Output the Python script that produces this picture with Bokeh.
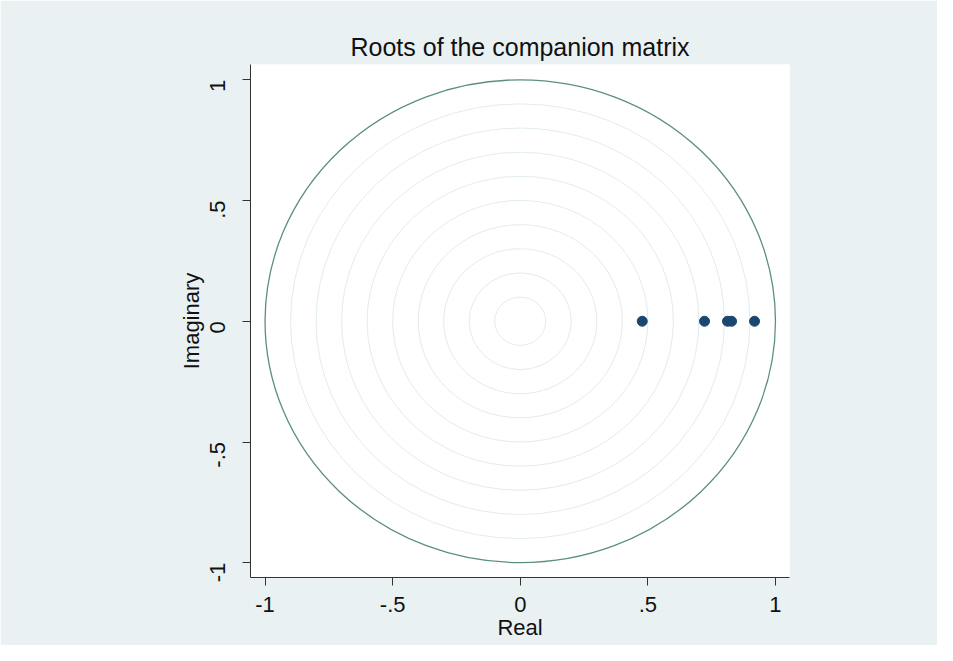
from bokeh.plotting import figure
from bokeh.models import FixedTicker, Range1d
from bokeh.embed import file_html
from bokeh.resources import INLINE
import math

# Data
root_real = [0.478, 0.722, 0.812, 0.828, 0.918]
root_imag = [0.0, 0.0, 0.0, 0.0, 0.0]
grid_radii = [0.1, 0.2, 0.3, 0.4, 0.5, 0.6, 0.7, 0.8, 0.9]
unit_radius = [1.0]
tick_values = [-1, -0.5, 0, 0.5, 1]
tick_labels = ["-1", "-.5", "0", ".5", "1"]

BG = "#E9F1F3"
FONT = "Liberation Sans"

p = figure(width=937, height=645, output_backend="svg", toolbar_location=None,
           x_range=Range1d(-1.057, 1.055), y_range=Range1d(-1.061, 1.063),
           title="Roots of the companion matrix",
           min_border_left=250, min_border_right=148, min_border_top=64, min_border_bottom=68)

p.background_fill_color = "white"
p.border_fill_color = BG
p.outline_line_color = None
p.grid.visible = False

p.title.align = "center"
p.title.text_font = FONT
p.title.text_font_size = "25px"
p.title.text_font_style = "normal"
p.title.text_color = "#111111"
p.title.standoff = 7

# grid circles
n = len(grid_radii)
p.ellipse(x=[0] * n, y=[0] * n, width=[2 * r for r in grid_radii], height=[2 * r for r in grid_radii],
          fill_color=None, line_color="#E2ECF0", line_width=1)
# unit circle
p.ellipse(x=[0], y=[0], width=[2 * r for r in unit_radius], height=[2 * r for r in unit_radius],
          fill_color=None, line_color="#5B8F84", line_width=1.3)

p.scatter(root_real, root_imag, size=10, fill_color="#1A476F", line_color="#1A476F")

overrides = {float(v): l for v, l in zip(tick_values, tick_labels)}
for ax in (p.xaxis[0], p.yaxis[0]):
    ax.ticker = FixedTicker(ticks=tick_values)
    ax.major_label_overrides = overrides
    ax.minor_tick_line_color = None
    ax.major_tick_in = 0
    ax.major_tick_out = 8
    ax.axis_line_color = "#333333"
    ax.major_tick_line_color = "#333333"
    ax.major_label_text_font = FONT
    ax.major_label_text_font_size = "22px"
    ax.major_label_text_color = "#111111"
    ax.axis_label_text_font = FONT
    ax.axis_label_text_font_size = "22px"
    ax.axis_label_text_font_style = "normal"
    ax.axis_label_text_color = "#111111"

p.xaxis.axis_label = "Real"
p.yaxis.axis_label = "Imaginary"
p.xaxis.major_label_standoff = 11
p.xaxis.axis_label_standoff = 0
p.yaxis.major_label_orientation = math.pi / 2
p.yaxis.major_label_standoff = 25
p.yaxis.axis_label_standoff = -4

open("out.html", "w").write(file_html(p, INLINE))
